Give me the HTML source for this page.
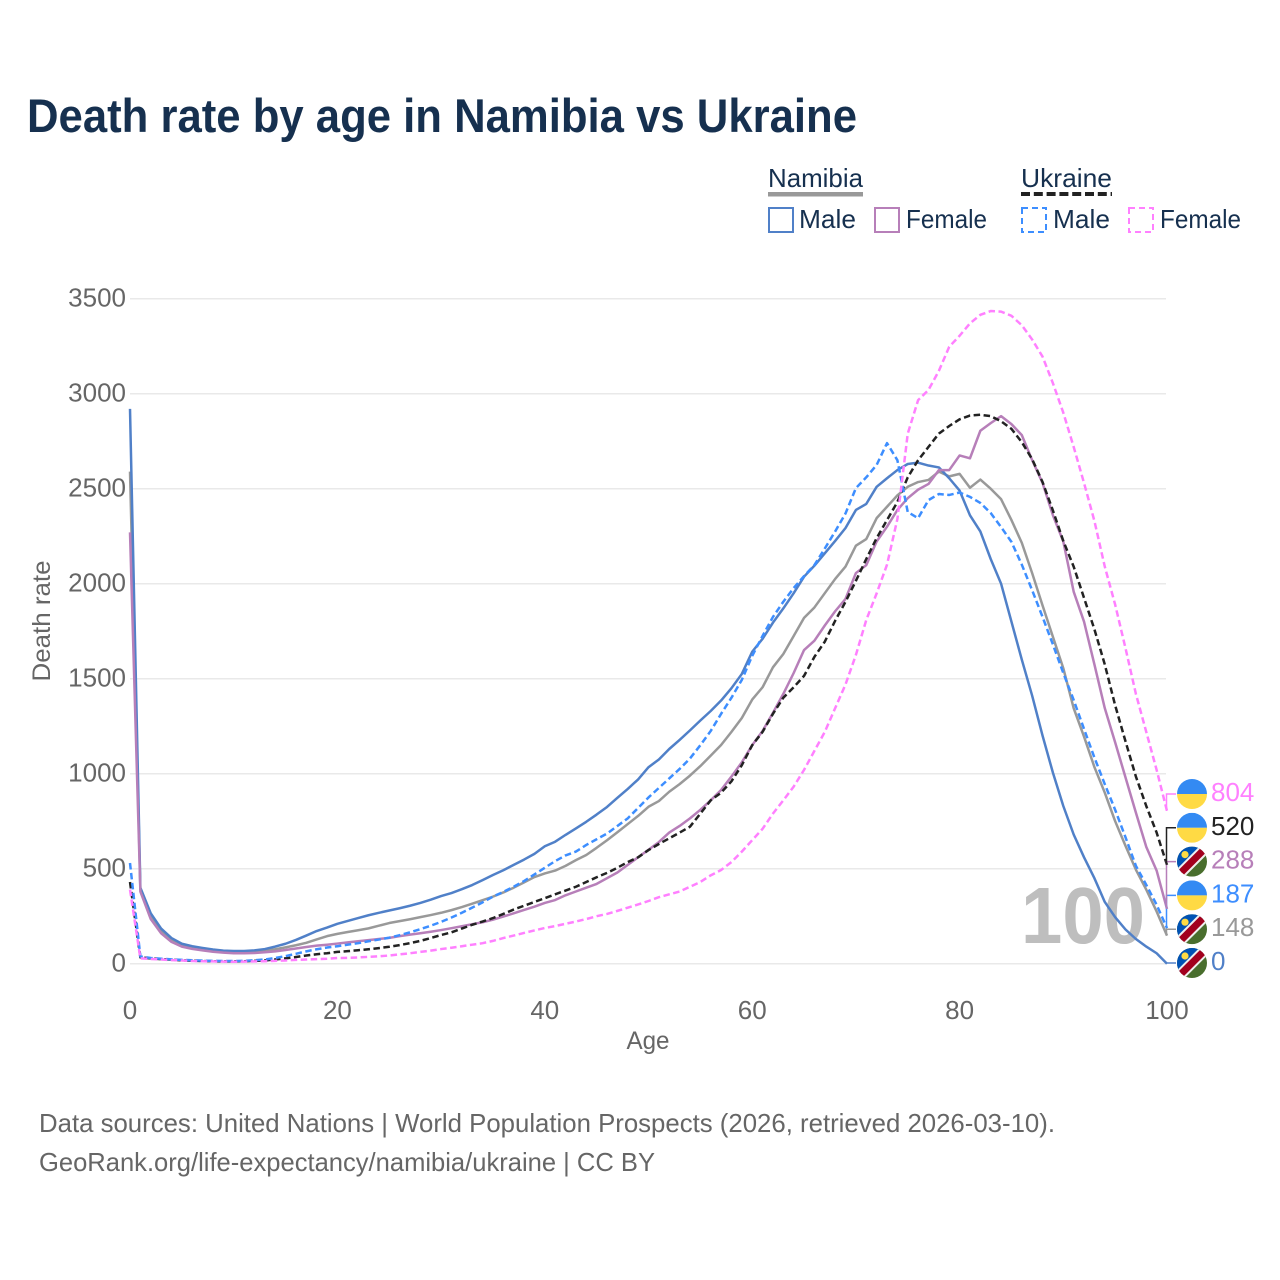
<!DOCTYPE html>
<html lang="en">
<head>
<meta charset="utf-8">
<title>Death rate by age in Namibia vs Ukraine</title>
<style>
  html, body { margin: 0; padding: 0; background: #fff; }
  svg { display: block; font-family: "Liberation Sans", sans-serif; }
</style>
</head>
<body>
<svg id="chart" xmlns="http://www.w3.org/2000/svg" width="1280" height="1280" viewBox="0 0 1280 1280">
  <defs>
    <clipPath id="flag-clip"><circle cx="0" cy="0" r="15"></circle></clipPath>
  </defs>
  <rect x="0" y="0" width="1280" height="1280" fill="#ffffff"></rect>
  <text x="27" y="132" font-size="47" font-weight="700" fill="#16304f" textLength="830" lengthAdjust="spacingAndGlyphs">Death rate by age in Namibia vs Ukraine</text>

  <g>
    <text x="768" y="187" font-size="26" fill="#16304f" textLength="95" lengthAdjust="spacingAndGlyphs">Namibia</text>
    <rect x="768" y="192" width="95" height="4.5" fill="#999999"></rect>
    <text x="1021" y="187" font-size="26" fill="#16304f" textLength="91" lengthAdjust="spacingAndGlyphs">Ukraine</text>
    <line x1="1021" y1="194" x2="1112" y2="194" stroke="#222222" stroke-width="4" stroke-dasharray="9 3.8"></line>

    <rect x="769" y="208" width="24" height="24" fill="none" stroke="#5080c8" stroke-width="2"></rect>
    <text x="799" y="228" font-size="26" fill="#16304f" textLength="57" lengthAdjust="spacingAndGlyphs">Male</text>
    <rect x="875" y="208" width="24" height="24" fill="none" stroke="#b77fb9" stroke-width="2"></rect>
    <text x="906" y="228" font-size="26" fill="#16304f" textLength="81" lengthAdjust="spacingAndGlyphs">Female</text>
    <rect x="1022" y="208" width="24" height="24" fill="none" stroke="#3d8eff" stroke-width="2" stroke-dasharray="6 4"></rect>
    <text x="1053" y="228" font-size="26" fill="#16304f" textLength="57" lengthAdjust="spacingAndGlyphs">Male</text>
    <rect x="1129" y="208" width="24" height="24" fill="none" stroke="#ff80ff" stroke-width="2" stroke-dasharray="6 4"></rect>
    <text x="1160" y="228" font-size="26" fill="#16304f" textLength="81" lengthAdjust="spacingAndGlyphs">Female</text>
  </g>

  <g id="grid"></g>
  <g id="yticks"></g>
  <g id="xticks"></g>

  <text x="1145" y="943" text-anchor="end" font-size="80" font-weight="700" fill="#bebebe" textLength="124" lengthAdjust="spacingAndGlyphs">100</text>

  <text x="648" y="1049" text-anchor="middle" font-size="25" fill="#666666" textLength="43" lengthAdjust="spacingAndGlyphs">Age</text>
  <text transform="translate(50,621) rotate(-90)" text-anchor="middle" font-size="25" fill="#666666" textLength="121" lengthAdjust="spacingAndGlyphs">Death rate</text>

  <g id="series"></g>
  <g id="endmarks"></g>

  <text x="39" y="1132" font-size="26" fill="#666666" textLength="1016" lengthAdjust="spacingAndGlyphs">Data sources: United Nations | World Population Prospects (2026, retrieved 2026-03-10).</text>
  <text x="39" y="1171" font-size="26" fill="#666666" textLength="616" lengthAdjust="spacingAndGlyphs">GeoRank.org/life-expectancy/namibia/ukraine | CC BY</text>
</svg>

<script>
const yTickValues = [0, 500, 1000, 1500, 2000, 2500, 3000, 3500];
const xTickValues = [0, 20, 40, 60, 80, 100];

const namibiaTotal = [2590,390,255,175,128,100,87,78,71,66,63,63,65,69,76,86,97,110,128,145,157,167,176,186,200,214,224,234,245,256,268,282,298,316,334,353,375,400,428,456,475,490,515,545,572,610,650,692,735,778,826,856,905,945,990,1040,1095,1151,1220,1293,1390,1455,1560,1630,1725,1820,1875,1950,2025,2090,2200,2235,2345,2405,2465,2510,2535,2546,2590,2565,2578,2505,2548,2500,2445,2335,2215,2055,1885,1720,1555,1345,1195,1035,900,750,620,495,390,275,148];
const namibiaMale = [2920,400,265,185,135,105,92,83,75,69,67,67,70,77,90,105,125,148,172,190,210,225,240,255,268,280,292,305,320,337,356,372,392,414,440,467,492,520,548,578,618,642,678,712,747,785,825,873,920,970,1034,1075,1130,1178,1228,1280,1330,1385,1450,1525,1642,1710,1795,1870,1950,2037,2095,2160,2225,2293,2388,2420,2510,2555,2598,2630,2637,2622,2612,2555,2490,2360,2275,2130,2000,1800,1600,1410,1200,1005,830,680,560,450,325,245,180,130,90,55,0];
const namibiaFemale = [2270,380,235,160,115,90,78,70,63,58,55,55,56,60,65,72,80,88,95,100,106,112,118,124,130,136,145,153,160,168,177,187,197,208,218,232,248,265,283,300,320,335,360,380,400,420,450,480,520,560,600,640,690,725,765,810,860,914,985,1060,1150,1225,1320,1420,1530,1651,1700,1780,1855,1920,2056,2098,2222,2300,2388,2450,2495,2525,2598,2598,2675,2660,2805,2845,2882,2840,2782,2650,2530,2360,2222,1958,1800,1575,1345,1165,980,795,615,490,288];
const ukraineTotal = [430,33,28,24,21,18,16,14,13,12,12,13,15,17,22,28,35,43,50,55,62,66,71,76,82,89,98,108,120,135,151,165,185,205,222,240,262,285,305,325,345,365,385,405,430,455,478,505,535,560,598,630,660,690,721,790,860,900,960,1045,1150,1220,1315,1400,1455,1515,1615,1695,1805,1905,2015,2130,2240,2335,2430,2560,2650,2720,2790,2830,2865,2885,2889,2882,2855,2815,2745,2655,2535,2385,2225,2090,1925,1760,1575,1360,1170,985,830,690,520];
const ukraineMale = [530,38,30,26,23,20,18,16,15,14,14,15,18,22,30,40,52,65,76,85,92,100,108,118,127,137,150,165,182,200,220,243,268,295,323,353,378,405,435,470,505,540,570,590,625,655,685,725,765,820,875,925,975,1025,1080,1150,1225,1315,1400,1494,1620,1725,1825,1905,1977,2040,2098,2185,2275,2370,2503,2560,2625,2740,2650,2377,2345,2440,2472,2467,2480,2457,2425,2372,2298,2220,2100,1965,1825,1680,1530,1388,1235,1085,945,810,665,515,415,310,187];
const ukraineFemale = [390,28,25,22,19,17,14,13,12,11,10,11,12,13,15,17,20,22,24,26,30,31,33,36,39,43,49,55,62,69,77,84,92,100,108,120,135,148,162,175,188,198,210,222,235,250,262,278,295,312,330,350,365,380,405,430,465,493,535,590,650,710,790,860,932,1020,1120,1220,1345,1470,1625,1809,1949,2100,2340,2790,2966,3020,3120,3247,3305,3370,3415,3435,3432,3410,3360,3285,3195,3055,2900,2720,2530,2330,2090,1890,1660,1420,1220,1020,804];

const NS = 'http://www.w3.org/2000/svg';
const xScale = function (age) { return 130 + age * 10.37; };
const yScale = function (value) { return 963.7 - value * 0.19; };

function make(tag, attrs, parent) {
  const el = document.createElementNS(NS, tag);
  Object.keys(attrs).forEach(function (k) { el.setAttribute(k, attrs[k]); });
  parent.appendChild(el);
  return el;
}

const gridGroup = document.getElementById('grid');
const yTickGroup = document.getElementById('yticks');
const xTickGroup = document.getElementById('xticks');
const seriesGroup = document.getElementById('series');
const endGroup = document.getElementById('endmarks');

yTickValues.forEach(function (v) {
  const line = make('line', { x1: 130, x2: 1166, y1: yScale(v), y2: yScale(v), stroke: '#e9e9e9', 'stroke-width': 1.5 }, gridGroup);
  
  
  const label = make('text', { x: 126, y: yScale(v) + 8, 'text-anchor': 'end', 'font-size': 26, fill: '#666666' }, yTickGroup);
  
  
  label.textContent = String(v);
});

xTickValues.forEach(function (v) {
  const label = make('text', { x: xScale(v), y: 1019, 'text-anchor': 'middle', 'font-size': 26, fill: '#666666' }, xTickGroup);
  
  
  label.textContent = String(v);
});

const seriesList = [
  { key: 'namibia-total', values: namibiaTotal, color: '#999999', dash: '', flag: 'namibia' },
  { key: 'namibia-male', values: namibiaMale, color: '#5080c8', dash: '', flag: 'namibia' },
  { key: 'namibia-female', values: namibiaFemale, color: '#b77fb9', dash: '', flag: 'namibia' },
  { key: 'ukraine-total', values: ukraineTotal, color: '#222222', dash: '6.5 3.5', flag: 'ukraine' },
  { key: 'ukraine-male', values: ukraineMale, color: '#3d8eff', dash: '6.5 3.5', flag: 'ukraine' },
  { key: 'ukraine-female', values: ukraineFemale, color: '#ff80ff', dash: '6.5 3.5', flag: 'ukraine' }
];

seriesList.forEach(function (s) {
  const d = s.values.map(function (v, age) {
    return (age ? 'L' : 'M') + xScale(age).toFixed(2) + ' ' + yScale(v).toFixed(2);
  }).join('');
  const attrs = { d: d, fill: 'none', stroke: s.color, 'stroke-width': 2.5, 'stroke-linejoin': 'round' };
  if (s.dash) { attrs['stroke-dasharray'] = s.dash; }
  const path = make('path', attrs, seriesGroup);
  
  
});

function drawFlag(kind, cx, cy, parent) {
  const g = make('g', { transform: 'translate(' + cx + ' ' + cy + ')', 'clip-path': 'url(#flag-clip)' }, parent);
  
  
  if (kind === 'ukraine') {
    make('rect', { x: -15, y: -15, width: 30, height: 15, fill: '#338af3' }, g);
    make('rect', { x: -15, y: 0, width: 30, height: 15, fill: '#ffda44' }, g);
  } else {
    make('rect', { x: -15, y: -15, width: 30, height: 30, fill: '#496e2d' }, g);
    make('polygon', { points: '-15,-15 15,-15 -15,15', fill: '#0052b4' }, g);
    make('line', { x1: -15, y1: 15, x2: 15, y2: -15, stroke: '#f0f0f0', 'stroke-width': 11 }, g);
    make('line', { x1: -15, y1: 15, x2: 15, y2: -15, stroke: '#a2001d', 'stroke-width': 7 }, g);
    make('circle', { cx: -7, cy: -7, r: 3.6, fill: '#ffda44' }, g);
  }
}

const endOrder = seriesList.slice().sort(function (a, b) {
  return a.values[a.values.length - 1] - b.values[b.values.length - 1];
});

endOrder.forEach(function (s, i) {
  const last = s.values[s.values.length - 1];
  const labelY = 963 - i * 33.8;
  const connector = make('path', {
    d: 'M' + (xScale(100) - 0.5) + ' ' + yScale(last) + 'V' + labelY + 'H1176',
    fill: 'none', stroke: s.color, 'stroke-width': 1.5
  }, endGroup);
  
  
  drawFlag(s.flag, 1192, labelY, endGroup);
  const label = make('text', { x: 1211, y: labelY + 7, 'font-size': 26, fill: s.color }, endGroup);
  
  
  label.textContent = String(last);
});
</script>
</body>
</html>
